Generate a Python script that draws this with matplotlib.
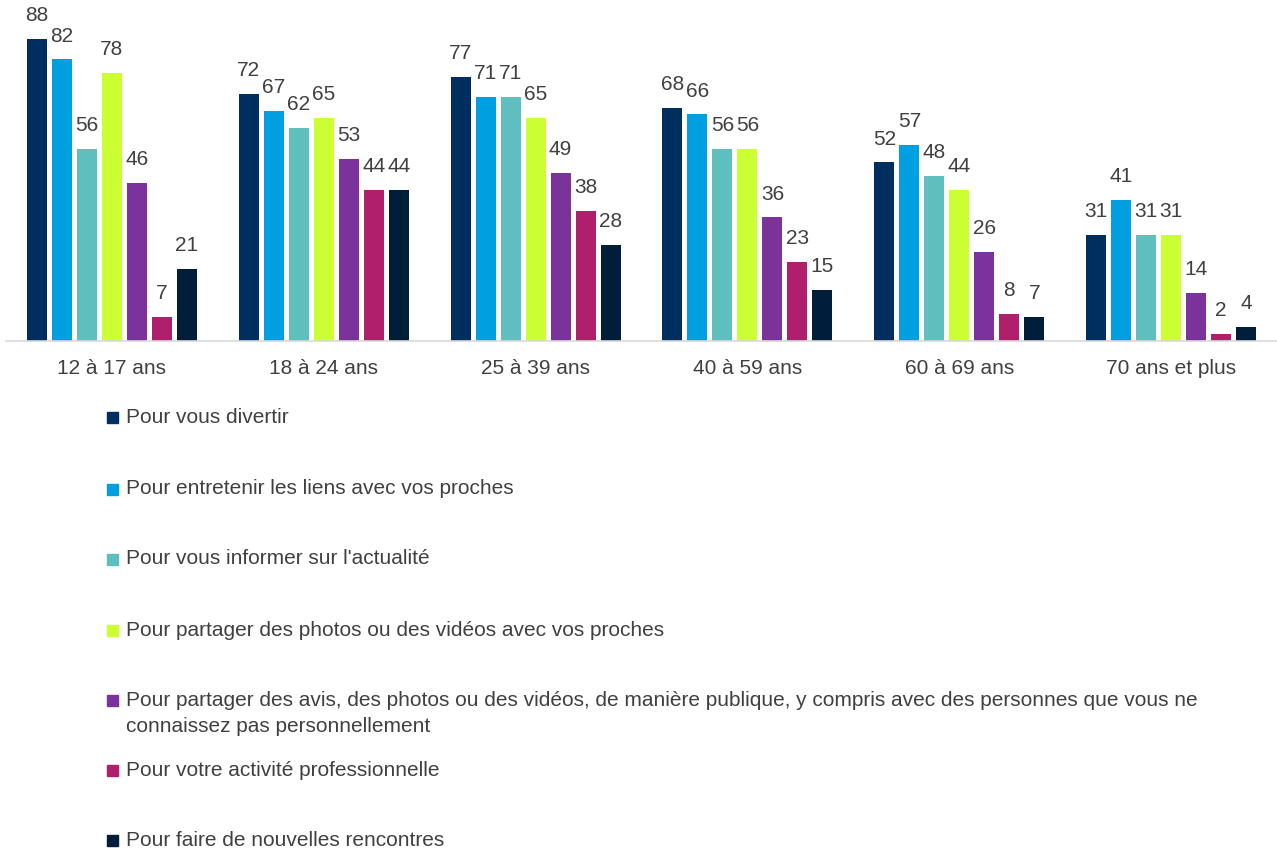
import numpy as np
import matplotlib
matplotlib.use('Agg')
import matplotlib.pyplot as plt
from matplotlib.patches import Rectangle

plt.rcParams['font.family'] = ['Liberation Sans', 'DejaVu Sans']

# ===== 数据 =====
age_groups = ["12 à 17 ans", "18 à 24 ans", "25 à 39 ans", "40 à 59 ans",
              "60 à 69 ans", "70 ans et plus"]

series_names = [
    "Pour vous divertir",
    "Pour entretenir les liens avec vos proches",
    "Pour vous informer sur l'actualité",
    "Pour partager des photos ou des vidéos avec vos proches",
    "Pour partager des avis, des photos ou des vidéos, de manière publique, y compris avec des personnes que vous ne\nconnaissez pas personnellement",
    "Pour votre activité professionnelle",
    "Pour faire de nouvelles rencontres",
]

divertir = [88, 72, 77, 68, 52, 31]
liens = [82, 67, 71, 66, 57, 41]
informer = [56, 62, 71, 56, 48, 31]
partager_proches = [78, 65, 65, 56, 44, 31]
partager_public = [46, 53, 49, 36, 26, 14]
professionnel = [7, 44, 38, 23, 8, 2]
rencontres = [21, 44, 28, 15, 7, 4]

all_series = [divertir, liens, informer, partager_proches,
              partager_public, professionnel, rencontres]

colors = ["#002F5F", "#009FDF", "#5FBFBF", "#CCFF33",
          "#7B339B", "#AF1F6B", "#001D3A"]

text_color = "#404040"
fs = 15

# ===== 画图 =====
fig = plt.figure(figsize=(12.77, 8.5), dpi=100)
ax = fig.add_axes([0.0047, 1 - 341 / 850, 0.9953, (341 - 8) / 850])

x = np.arange(len(age_groups))
pitch = 25 / 212
width = 20 / 212

for i, (vals, col) in enumerate(zip(all_series, colors)):
    pos = x + (i - 3) * pitch
    bars = ax.bar(pos, vals, width=width, color=col)
    for b, v in zip(bars, vals):
        ax.annotate(str(v), (b.get_x() + b.get_width() / 2, v),
                    xytext=(0, 10), textcoords='offset points',
                    ha='center', va='bottom', fontsize=fs, color=text_color)

ax.set_xlim(-0.5, len(age_groups) - 0.5)
ax.set_ylim(0, 97)
ax.set_xticks(x)
ax.set_xticklabels(age_groups, fontsize=fs, color=text_color)
ax.tick_params(axis='x', length=0, pad=13)
ax.set_yticks([])
for s in ['top', 'right', 'left']:
    ax.spines[s].set_visible(False)
ax.spines['bottom'].set_color('#D9D9D9')
ax.spines['bottom'].set_linewidth(1.2)

# ===== 图例 =====
leg_y = [418, 489, 559, 630, 700, 770, 840]
for name, col, yy in zip(series_names, colors, leg_y):
    fy = 1 - yy / 850
    fig.patches.append(Rectangle((107 / 1277, fy - 5.5 / 850), 11 / 1277, 11 / 850,
                                 transform=fig.transFigure, color=col))
    for k, line in enumerate(name.split('\n')):
        fig.text(126 / 1277, fy - k * 27 / 850, line, ha='left', va='center',
                 fontsize=fs, color=text_color)

fig.savefig("out.png", dpi=100)
plt.close()
